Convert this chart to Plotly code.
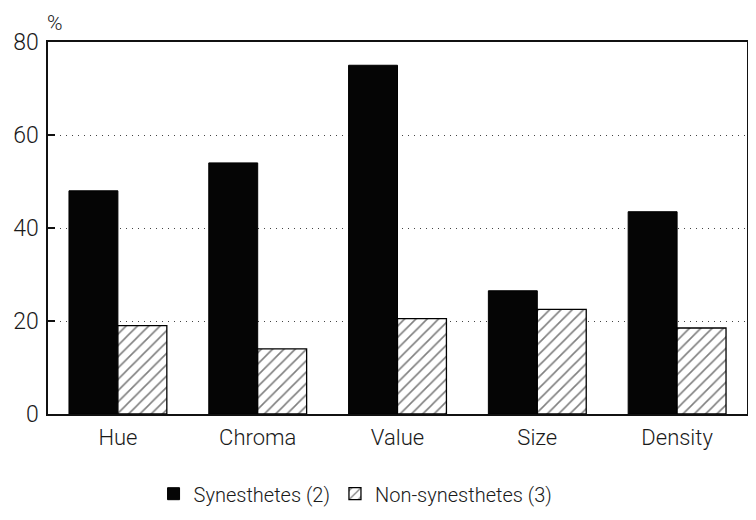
import plotly.graph_objects as go

categories = ["Hue", "Chroma", "Value", "Size", "Density"]
synesthetes = [48, 54, 75, 26.5, 43.5]
non_synesthetes = [19, 14, 20.5, 22.5, 18.5]
y_ticks = [0, 20, 40, 60, 80]

FONT = "Roboto, DejaVu Sans, sans-serif"
TXT = "#1a1a1a"

fig = go.Figure()
fig.add_trace(go.Bar(
    x=categories, y=synesthetes, name="Synesthetes (2)",
    marker=dict(color="#050505", line=dict(color="#000", width=1)),
))
fig.add_trace(go.Bar(
    x=categories, y=non_synesthetes, name="Non-synesthetes (3)",
    marker=dict(color="white", line=dict(color="#000", width=1.3),
                pattern=dict(shape="/", fgcolor="#000", bgcolor="white",
                             size=8, solidity=0.2)),
))

fig.update_layout(
    width=740, height=504,
    margin=dict(l=40, r=1, t=34, b=98, autoexpand=False),
    paper_bgcolor="white", plot_bgcolor="white",
    barmode="group", bargap=0.3, bargroupgap=0,
    font=dict(family=FONT, size=20, color=TXT, weight=300),
    showlegend=True,
    legend=dict(orientation="h", x=0.44, xanchor="center",
                yref="container", y=0.075, yanchor="top",
                font=dict(size=20, family=FONT, color=TXT, weight=300),
                itemwidth=30, traceorder="normal"),
)
fig.update_xaxes(
    showline=True, linecolor="#111", linewidth=1.5, mirror=True,
    ticks="", showgrid=False, automargin=False, ticklabelstandoff=3,
    tickfont=dict(size=22, family=FONT, color=TXT, weight=300),
)
fig.update_yaxes(
    range=[0, 80], tickvals=y_ticks, ticktext=[str(v) for v in y_ticks],
    showline=True, linecolor="#111", linewidth=1.5, mirror=True,
    ticks="inside", ticklen=7, tickcolor="#111", tickwidth=1.5,
    showgrid=True, gridcolor="#444", griddash="1px,5px", gridwidth=1,
    zeroline=False, automargin=False, ticklabelstandoff=3,
    tickfont=dict(size=23, family=FONT, color=TXT, weight=300),
)
fig.add_annotation(text="%", xref="paper", yref="paper", x=0.0, y=1.0,
                   xanchor="left", yanchor="bottom", yshift=5, xshift=-3,
                   showarrow=False, font=dict(size=21, family=FONT, color=TXT, weight=300))

fig.write_html("out.html")
